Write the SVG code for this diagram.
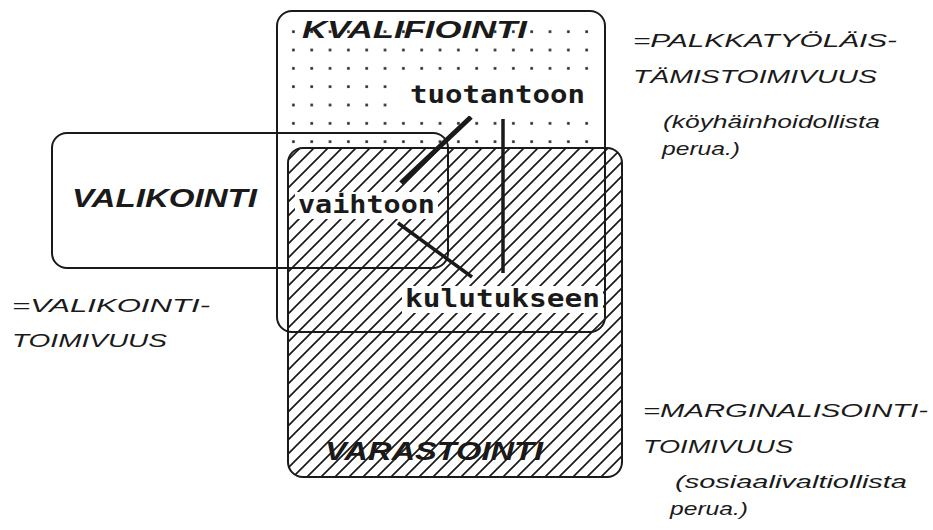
<svg xmlns="http://www.w3.org/2000/svg" width="933" height="530" viewBox="0 0 933 530">
<defs>
<style>
.box{fill:none;stroke:#1a1a1a;stroke-width:2}
.lbl{font-family:"Liberation Sans",Arial,sans-serif;font-style:italic;font-weight:bold;fill:#1a1a1a}
.word{font-family:"DejaVu Sans Mono","Liberation Mono",monospace;font-weight:bold;font-size:25px;fill:#1a1a1a}
.note{font-family:"Liberation Sans",Arial,sans-serif;font-style:italic;fill:#1a1a1a}
.big{font-size:19px}
.small{font-size:18px}
.bg{fill:#fff}
.conn line{stroke:#1a1a1a;fill:none}
</style>
<pattern id="hatch" patternUnits="userSpaceOnUse" width="14" height="14">
<path d="M-1,15 L15,-1 M-3.5,3.5 L3.5,-3.5 M10.5,17.5 L17.5,10.5" stroke="#1a1a1a" stroke-width="1.7"/>
</pattern>
<pattern id="dots" patternUnits="userSpaceOnUse" x="284.2" y="22.5" width="18.33" height="18.33">
<rect x="7.9" y="7.9" width="2.6" height="2.6" fill="#222"/>
</pattern>
</defs>
<rect width="933" height="530" fill="#fff"/>

<g id="varastointi">
<rect x="288" y="148" width="334" height="329" rx="15" fill="#fff"/>
<rect x="288" y="148" width="334" height="329" rx="15" fill="url(#hatch)"/>
<rect class="box" x="288" y="148" width="334" height="329" rx="15"/>
<text class="lbl" x="325" y="460" font-size="25" textLength="218" lengthAdjust="spacingAndGlyphs">VARASTOINTI</text>
</g>

<g id="kvalifiointi">
<rect x="282" y="22" width="320" height="125" fill="url(#dots)"/>
<rect class="box" x="277" y="11" width="328" height="321" rx="15"/>
<text class="lbl" x="302" y="38" font-size="23" textLength="225" lengthAdjust="spacingAndGlyphs">KVALIFIOINTI</text>
</g>

<g id="valikointi">
<rect class="box" x="52" y="133" width="396" height="135" rx="15"/>
<text class="lbl" x="72" y="207" font-size="25" textLength="185" lengthAdjust="spacingAndGlyphs">VALIKOINTI</text>
</g>

<g id="connectors" class="conn">
<line x1="471" y1="117" x2="401" y2="183" stroke-width="5"/>
<line x1="503" y1="119" x2="503" y2="273" stroke-width="3.5"/>
<line x1="398" y1="223" x2="472" y2="277" stroke-width="3.5"/>
</g>

<g id="tuotantoon">
<rect class="bg" x="390" y="76" width="213" height="40"/>
<text class="word" x="410" y="103" textLength="175" lengthAdjust="spacingAndGlyphs">tuotantoon</text>
</g>

<g id="vaihtoon">
<rect class="bg" x="295" y="192" width="143" height="27"/>
<text class="word" x="298" y="213" textLength="137" lengthAdjust="spacingAndGlyphs">vaihtoon</text>
</g>

<g id="kulutukseen">
<rect class="bg" x="402" y="286" width="201" height="27"/>
<text class="word" x="405" y="307" textLength="195" lengthAdjust="spacingAndGlyphs">kulutukseen</text>
</g>

<g id="note-kvalifiointi">
<text class="note big" x="633" y="47" textLength="264" lengthAdjust="spacingAndGlyphs">=PALKKATYÖLÄIS-</text>
<text class="note big" x="633" y="83" textLength="244" lengthAdjust="spacingAndGlyphs">TÄMISTOIMIVUUS</text>
<text class="note small" x="663" y="128" textLength="217" lengthAdjust="spacingAndGlyphs">(köyhäinhoidollista</text>
<text class="note small" x="662" y="155" textLength="78" lengthAdjust="spacingAndGlyphs">perua.)</text>
</g>

<g id="note-valikointi">
<text class="note big" x="12" y="312" textLength="198" lengthAdjust="spacingAndGlyphs">=VALIKOINTI-</text>
<text class="note big" x="12" y="347" textLength="155" lengthAdjust="spacingAndGlyphs">TOIMIVUUS</text>
</g>

<g id="note-varastointi">
<text class="note big" x="643" y="417" textLength="285" lengthAdjust="spacingAndGlyphs">=MARGINALISOINTI-</text>
<text class="note big" x="643" y="453" textLength="150" lengthAdjust="spacingAndGlyphs">TOIMIVUUS</text>
<text class="note small" x="675" y="488" textLength="232" lengthAdjust="spacingAndGlyphs">(sosiaalivaltiollista</text>
<text class="note small" x="670" y="515" textLength="78" lengthAdjust="spacingAndGlyphs">perua.)</text>
</g>
</svg>
